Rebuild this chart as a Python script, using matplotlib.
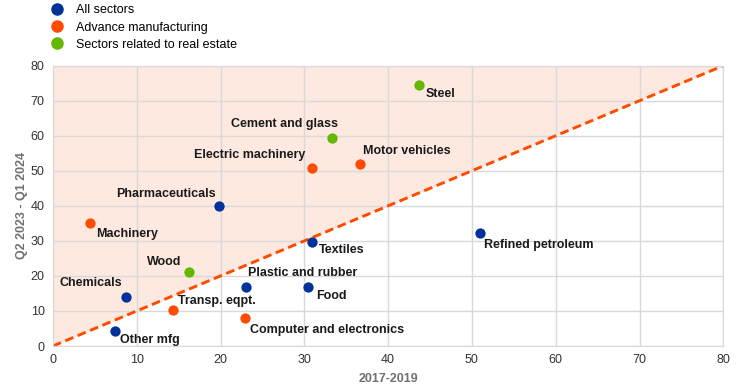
import matplotlib.pyplot as plt
from matplotlib.lines import Line2D

plt.rcParams['font.family'] = ['Liberation Sans', 'DejaVu Sans']

# data
sectors = ["Steel", "Cement and glass", "Electric machinery", "Motor vehicles",
           "Pharmaceuticals", "Machinery", "Textiles", "Refined petroleum",
           "Wood", "Plastic and rubber", "Chemicals", "Food", "Transp. eqpt.",
           "Computer and electronics", "Other mfg"]
pre = [43.7, 33.3, 30.9, 36.7, 19.8, 4.4, 30.9, 51.0, 16.3, 23.0, 8.7, 30.4, 14.3, 22.9, 7.4]
post = [74.5, 59.4, 50.9, 51.9, 40.0, 35.2, 29.8, 32.3, 21.2, 16.7, 14.0, 16.8, 10.3, 8.1, 4.4]
group = ["re", "re", "adv", "adv", "all", "adv", "all", "all", "re", "all", "all", "all",
         "adv", "adv", "all"]

group_names = {"all": "All sectors", "adv": "Advance manufacturing",
               "re": "Sectors related to real estate"}
colors = {"all": "#003299", "adv": "#FF4B00", "re": "#65B800"}

# label offsets in pixels (dx, dy) and horizontal alignment
label_pos = {
    "Steel": (7, -9, "left"),
    "Cement and glass": (6, 14, "right"),
    "Electric machinery": (-6, 13, "right"),
    "Motor vehicles": (3, 13, "left"),
    "Pharmaceuticals": (-3, 12, "right"),
    "Machinery": (6, -11, "left"),
    "Textiles": (7, -8, "left"),
    "Refined petroleum": (4, -12, "left"),
    "Wood": (-8, 10, "right"),
    "Plastic and rubber": (2, 14, "left"),
    "Chemicals": (-4, 14, "right"),
    "Food": (8, -9, "left"),
    "Transp. eqpt.": (5, 9, "left"),
    "Computer and electronics": (5, -12, "left"),
    "Other mfg": (5, -9, "left"),
}

fig = plt.figure(figsize=(7.43, 3.88), dpi=100)
ax = fig.add_axes([0.0712, 0.1082, 0.9023, 0.7225])

ax.fill_between([0, 80], [0, 80], [80, 80], color="#FEE9E1", zorder=0, lw=0)
ax.plot([0, 80], [0, 80], color="#FF4B00", ls=(0, (3, 1.6)), lw=2.1, zorder=2)

for name, x, y, g in zip(sectors, pre, post, group):
    ax.scatter(x, y, s=55, color=colors[g], zorder=3, lw=0)
    dx, dy, ha = label_pos[name]
    ax.annotate(name, (x, y), xytext=(dx, dy), textcoords="offset pixels",
                ha=ha, va="center", fontsize=9, fontweight="bold", color="#1a1a1a",
                zorder=4)

ax.set_xlim(0, 80)
ax.set_ylim(0, 80)
ax.set_xticks(range(0, 81, 10))
ax.set_yticks(range(0, 81, 10))
ax.grid(True, color="#D9D9D9", lw=1, zorder=1)
ax.set_axisbelow(True)
for s in ax.spines.values():
    s.set_color("#D9D9D9")
ax.tick_params(length=0, labelsize=9, colors="#333333", pad=6)
ax.set_xlabel("2017-2019", fontsize=9, fontweight="bold", color="#707070", labelpad=5)
ax.set_ylabel("Q2 2023 - Q1 2024", fontsize=9, fontweight="bold", color="#707070", labelpad=2)

handles = [Line2D([], [], marker="o", ls="", color=colors[k], markersize=8, label=group_names[k])
           for k in ["all", "adv", "re"]]
fig.legend(handles=handles, loc="upper left", bbox_to_anchor=(0.067, 0.989), frameon=False,
           fontsize=9, handletextpad=0.9, labelspacing=0.42, handlelength=1.2,
           borderaxespad=0, borderpad=0)

fig.savefig("out.png", dpi=100)
